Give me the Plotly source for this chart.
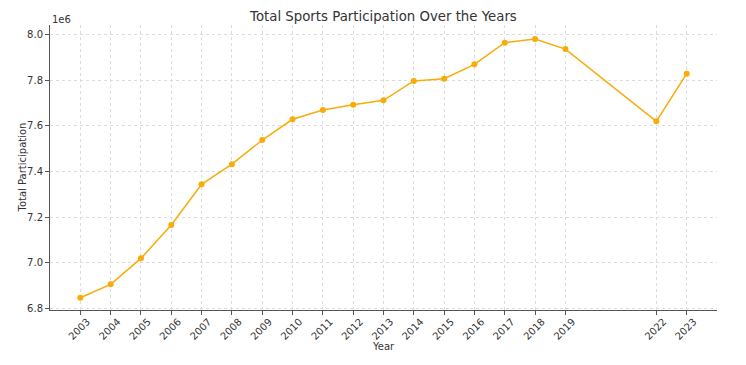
import plotly.graph_objects as go

years = [2003, 2004, 2005, 2006, 2007, 2008, 2009, 2010, 2011, 2012, 2013,
         2014, 2015, 2016, 2017, 2018, 2019, 2022, 2023]
participation_millions = [6.846, 6.905, 7.019, 7.165, 7.344, 7.432, 7.538, 7.629,
                          7.670, 7.693, 7.712, 7.797, 7.807, 7.870, 7.965, 7.981,
                          7.937, 7.620, 7.829]
y_ticks = [6.8, 7.0, 7.2, 7.4, 7.6, 7.8, 8.0]

color = "#F7AC0A"
font = "DejaVu Sans, Liberation Sans, sans-serif"

fig = go.Figure()
fig.add_trace(go.Scatter(
    x=years, y=participation_millions, mode="lines+markers",
    line=dict(color=color, width=1.5),
    marker=dict(color=color, size=6),
    showlegend=False,
))

fig.update_layout(
    width=746, height=365,
    margin=dict(l=50, r=29, t=25, b=55, autoexpand=False),
    plot_bgcolor="white", paper_bgcolor="white",
    font=dict(family=font, size=10, color="#333333"),
    title=dict(text="Total Sports Participation Over the Years",
               x=0.514, xanchor="center", y=0.956, yanchor="middle",
               font=dict(size=13.3, color="#333333")),
)
fig.update_xaxes(
    range=[2002, 2024], tickvals=years, ticktext=[str(y) for y in years],
    tickangle=-45, ticks="outside", ticklen=4, tickcolor="#555555",
    ticklabelshift=7, ticklabelstandoff=-3,
    showline=True, linecolor="#555555", linewidth=1,
    showgrid=True, gridcolor="#dcdcdc", griddash="dot", gridwidth=0.8,
    zeroline=False, automargin=False,
)
fig.update_yaxes(
    range=[6.7925, 8.0425], tickvals=y_ticks, tickformat=".1f",
    ticks="outside", ticklen=4, tickcolor="#555555",
    showline=True, linecolor="#555555", linewidth=1,
    showgrid=True, gridcolor="#dcdcdc", griddash="dot", gridwidth=0.8,
    zeroline=False, automargin=False,
)
fig.add_annotation(text="1e6", xref="paper", yref="paper", x=0, y=1.0,
                   xanchor="left", yanchor="bottom", showarrow=False,
                   font=dict(size=10, color="#333333"), yshift=-2)
fig.add_annotation(text="Total Participation", xref="paper", yref="paper",
                   x=0, y=0.5, xshift=-28, textangle=-90, showarrow=False,
                   xanchor="center", yanchor="middle",
                   font=dict(size=10, color="#333333"))
fig.add_annotation(text="Year", xref="paper", yref="paper",
                   x=0.5, y=0, yshift=-36, showarrow=False,
                   xanchor="center", yanchor="middle",
                   font=dict(size=10, color="#333333"))

fig.write_html(
    "out.html",
    config={"displayModeBar": False},
    post_script="document.body.style.margin='0';document.body.style.padding='0';",
)
